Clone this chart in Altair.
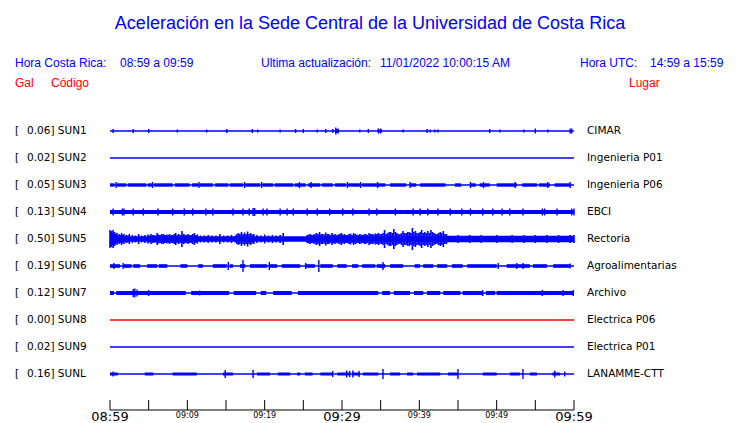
import altair as alt
import pandas as pd

# ---------------- data ----------------
TITLE = "Aceleración en la Sede Central de la Universidad de Costa Rica"
header_texts = ["Hora Costa Rica:", "08:59 a 09:59", "Ultima actualización:",
                "11/01/2022 10:00:15 AM", "Hora UTC:", "14:59 a 15:59"]
header_red = ["Gal", "Código", "Lugar"]

codes = ["SUN1", "SUN2", "SUN3", "SUN4", "SUN5", "SUN6", "SUN7", "SUN8", "SUN9", "SUNL"]
peaks = [0.06, 0.02, 0.05, 0.13, 0.50, 0.19, 0.12, 0.00, 0.02, 0.16]
places = ["CIMAR", "Ingenieria P01", "Ingenieria P06", "EBCI", "Rectoria",
          "Agroalimentarias", "Archivo", "Electrica P06", "Electrica P01", "LANAMME-CTT"]

# time axis (minutes after 08:59)
tick_minutes = [0, 5, 10, 15, 20, 25, 30, 35, 40, 45, 50, 55, 60]
major_labels = [[0, "08:59"], [30, "09:29"], [60, "09:59"]]
minor_labels = [[10, "09:09"], [20, "09:19"], [40, "09:39"], [50, "09:49"]]

# thick parts of each trace: [start min, end min, half amplitude]
chunks = {
    "SUN1": [[29.1, 29.5, 2], [34.6, 35.2, 1.5]],
    "SUN3": [[0, 0.6, 1.7], [0.9, 2.1, 1.7], [2.3, 4.7, 1.7], [4.9, 5.4, 1.7], [5.7, 8.1, 1.7],
             [8.4, 10.3, 1.7], [10.6, 11.4, 1.7], [11.6, 13.3, 1.7], [13.6, 15.3, 1.7],
             [15.5, 17.2, 1.7], [17.5, 19.4, 1.7], [19.7, 21.1, 1.7], [21.3, 23.7, 1.7],
             [23.9, 25.3, 1.7], [25.6, 27.2, 1.7], [27.4, 28.8, 1.7], [29.1, 30.5, 1.7],
             [30.8, 32.3, 1.7], [32.6, 35.6, 1.7], [36.2, 38.3, 1.7], [38.8, 39.6, 1.7],
             [40.1, 43.4, 1.7], [44.6, 45.4, 1.7], [46.6, 47.3, 1.7], [47.8, 49.1, 1.7],
             [50.0, 52.6, 1.7], [53.3, 55.2, 1.7], [55.5, 56.9, 1.7], [57.5, 59.5, 1.7]],
    "SUN4": [[0, 60, 2]],
    "SUN5": [[0, 60, 2.8], [43.5, 60, 3.2]],
    "SUN6": [[0, 1.3, 1.8], [1.8, 2.8, 1.8], [3.0, 3.9, 1.8], [4.8, 6.1, 1.8], [6.3, 7.4, 1.8],
             [9.1, 10.0, 1.8], [11.4, 12.0, 1.8], [13.3, 15.1, 1.8], [15.5, 15.9, 1.8],
             [16.8, 17.5, 1.8], [18.1, 20.3, 1.8], [20.7, 21.6, 1.8], [22.2, 24.6, 1.8],
             [25.2, 26.5, 1.8], [27.2, 28.8, 1.8], [29.4, 30.6, 1.8], [31.3, 32.1, 1.8],
             [32.6, 34.3, 1.8], [34.5, 35.6, 1.8], [36.2, 37.9, 1.8], [39.4, 40.1, 1.8],
             [40.5, 41.8, 1.8], [42.3, 43.6, 1.8], [44.2, 45.6, 1.8], [46.2, 50.0, 1.8],
             [51.3, 54.3, 1.8], [54.7, 56.5, 1.8], [57.3, 59.5, 1.8]],
    "SUN7": [[0, 0.5, 2], [0.8, 9.8, 2], [10.5, 15.4, 2], [16.0, 18.9, 2], [19.5, 20.2, 2],
             [21.1, 23.5, 2], [24.3, 34.7, 2], [35.2, 36.2, 2], [36.7, 38.8, 2], [39.3, 40.5, 2],
             [41.0, 42.7, 2], [43.1, 45.3, 2], [45.6, 48.1, 2], [48.6, 49.8, 2], [50.0, 60, 2]],
    "SUNL": [[0, 1.0, 1.5], [4.5, 5.6, 1.5], [8.1, 11.2, 1.5], [14.6, 15.9, 1.5], [19.0, 20.7, 1.5],
             [21.7, 23.3, 1.5], [24.2, 24.6, 1.5], [25.2, 26.2, 1.5], [27.2, 28.8, 1.5],
             [29.4, 31.0, 1.5], [31.4, 32.3, 1.5], [32.7, 34.7, 1.5], [36.2, 37.5, 1.5],
             [38.4, 39.2, 1.5], [39.7, 42.7, 1.5], [43.7, 45.0, 1.5], [48.2, 50.0, 1.5],
             [51.7, 53.0, 1.5], [54.3, 55.2, 1.5], [57.2, 58.2, 1.5]],
}

# spikes: [minute, half amplitude]
spikes = {
    "SUN1": [[0.4, 2], [3.0, 2], [5.0, 2], [8.7, 1.5], [12.5, 1.5], [15.1, 2], [18.4, 2], [19.1, 1.5],
             [22.0, 1.5], [24.0, 2], [25.0, 2], [26.8, 1.5], [27.9, 2], [28.8, 2], [29.2, 3.5],
             [29.5, 2.5], [32.3, 1.5], [33.4, 2], [34.7, 2.5], [35.0, 2.5], [37.9, 1.5], [41.0, 2],
             [41.4, 1.5], [42.0, 1.5], [42.4, 1.5], [49.1, 2], [50.4, 1.5], [53.5, 1.5], [55.0, 2.5],
             [56.6, 1.5], [59.5, 2.5], [59.7, 2.5]],
    "SUN3": [[0.8, 3], [5.5, 3], [11.5, 3], [17.4, 3], [19.6, 3], [24.5, 3], [26.0, 3], [30.7, 3],
             [32.4, 3], [34.6, 3], [38.8, 3], [46.6, 3], [48.3, 3], [52.4, 3], [56.6, 3], [59.5, 3]],
    "SUN4": [[0.4, 3.5], [1.6, 3.5], [1.8, 3.5], [3.0, 3.5], [4.3, 3.5], [6.2, 3.5], [8.1, 3.5],
             [9.6, 3.5], [10.7, 3.5], [12.4, 3.5], [13.3, 3.5], [15.9, 3.5], [17.2, 3.5], [18.0, 3.5],
             [18.5, 4], [18.7, 4], [19.8, 3.5], [20.3, 3.5], [22.0, 3.5], [22.9, 3.5], [23.7, 3.5],
             [25.5, 3.5], [26.8, 3.5], [28.4, 3.5], [30.1, 3.5], [31.4, 3.5], [33.5, 3.5], [34.5, 3.5],
             [36.9, 3.5], [39.2, 3.5], [40.1, 3.5], [41.1, 3.5], [42.4, 3.5], [44.0, 3.5], [45.5, 3.5],
             [46.6, 3.5], [48.2, 3.5], [49.5, 3.5], [50.7, 3.5], [51.7, 3.5], [53.4, 3.5], [55.9, 3.5],
             [56.2, 3.5], [57.8, 3.5], [59.7, 3.5], [60, 3.5]],
    "SUN5": [[0.0, 9], [0.1, 7], [0.2, 8], [0.3, 6], [0.4, 9], [0.5, 6], [0.6, 7], [0.75, 5], [0.9, 6],
             [1.05, 4], [1.2, 5], [1.35, 4], [1.5, 6], [1.65, 4], [1.8, 5], [2.1, 4],
             [2.3, 3.5], [2.5, 5], [2.9, 4], [3.3, 3.5], [3.7, 5], [4.1, 3.5], [4.5, 4], [4.9, 4.5],
             [5.1, 3.5], [5.3, 5], [5.5, 4], [5.7, 4], [5.9, 3.5], [6.1, 6], [6.3, 4.5], [6.5, 4],
             [6.7, 5], [6.9, 5], [7.1, 4], [7.3, 4.5], [7.5, 4], [7.7, 5], [7.9, 4], [8.1, 4],
             [8.3, 5], [8.5, 6], [8.7, 4], [8.9, 5], [9.1, 4], [9.3, 8], [9.5, 5], [9.7, 4.5],
             [9.9, 4], [10.1, 5], [10.3, 4], [10.5, 4], [10.7, 5], [10.9, 6], [11.1, 4], [11.3, 4.5],
             [11.7, 3.5], [12.2, 3.5], [12.7, 4], [13.2, 3.5], [13.7, 3.5], [14.2, 5], [14.7, 3.5],
             [15.2, 3.5], [15.7, 4], [16.2, 3.5], [16.4, 5], [16.6, 6], [16.8, 5], [17.0, 7],
             [17.2, 5], [17.4, 6.5], [17.6, 5], [17.8, 7.5], [18.0, 5], [18.2, 6], [18.4, 4.5],
             [18.6, 5], [19.0, 4], [19.5, 3.5], [20.0, 4.5], [20.5, 3.5], [21.0, 4], [21.5, 3.5],
             [22.0, 4], [22.4, 6], [25.5, 4], [25.7, 4.5], [25.9, 5], [26.1, 4], [26.3, 4.5],
             [26.5, 5], [26.7, 6], [26.9, 5], [27.1, 7], [27.3, 5], [27.5, 5], [27.7, 4.5],
             [27.9, 6.5], [28.1, 5], [28.3, 5], [28.5, 4], [28.7, 6], [28.9, 4.5], [29.1, 5],
             [29.3, 4], [29.5, 4.5], [29.7, 5], [29.9, 6], [30.1, 4.5], [30.3, 5], [30.5, 4],
             [30.7, 4], [30.9, 5], [31.1, 5.5], [31.3, 4], [31.5, 6], [31.7, 5], [31.9, 4.5],
             [32.1, 4], [32.3, 5], [32.5, 4.5], [32.7, 4], [32.9, 5], [33.1, 5], [33.3, 4],
             [33.5, 6], [33.7, 5], [33.9, 5], [34.1, 4.5], [34.3, 5.5], [34.5, 5], [34.7, 6],
             [34.9, 5], [35.1, 5], [35.3, 6], [35.5, 9], [35.7, 5], [35.9, 6], [36.1, 7], [36.3, 7],
             [36.5, 6], [36.7, 10], [36.9, 7], [37.1, 6], [37.3, 5], [37.5, 5], [37.7, 6], [37.9, 8],
             [38.1, 6], [38.3, 6], [38.5, 7], [38.7, 7], [38.9, 6], [39.1, 11], [39.3, 7], [39.5, 8],
             [39.7, 6], [39.9, 6], [40.1, 7], [40.3, 9], [40.5, 6], [40.7, 7], [40.9, 6], [41.1, 8],
             [41.3, 6], [41.5, 9], [41.7, 7], [41.9, 6], [42.1, 5], [42.3, 5], [42.5, 6], [42.7, 7],
             [42.9, 6], [43.1, 8], [43.3, 5], [43.5, 5], [45.0, 4], [46.5, 4], [48.0, 4], [50.0, 4],
             [52.0, 4], [53.5, 4], [55.0, 4], [56.5, 4], [58.0, 4], [59.5, 4], [60, 4]],
    "SUN6": [[0.5, 3], [1.7, 3], [15.3, 4], [17.2, 6], [20.6, 4], [25.3, 3], [27.0, 6], [35.3, 4],
             [50.2, 3], [52.6, 3], [53.4, 3], [59.5, 2.5]],
    "SUN7": [[3.0, 4], [3.2, 4.5], [3.5, 3.5], [5.0, 3], [11.6, 2.5], [48.2, 3], [55.9, 3],
             [58.6, 3], [59.9, 3]],
    "SUNL": [[0.4, 2.5], [14.9, 4], [18.5, 4], [28.8, 3], [30.6, 3.5], [31.0, 3], [31.4, 3.5],
             [32.2, 3], [35.3, 5], [45.0, 5], [53.4, 5], [57.5, 3.5], [58.8, 2.5]],
}

# ---------------- layout ----------------
BLUE = "#0000ff"
RED = "#ff0000"
W, H = 464, 293
TOP, GAP = 14, 27          # pixel offset of first trace, spacing between traces
line_colors = [RED if c == "SUN8" else BLUE for c in codes]

center = {c: TOP + GAP * i for i, c in enumerate(codes)}

base_df = pd.DataFrame({"code": codes, "x": 0, "x2": 60,
                        "y": [center[c] for c in codes],
                        "lbl": [f"{p:.2f}] {c}" for p, c in zip(peaks, codes)],
                        "place": places})

chunk_rows = []
for c, lst in chunks.items():
    for s, e, a in lst:
        chunk_rows.append({"code": c, "x": s, "x2": e, "y": center[c] - a, "y2": center[c] + a})
chunk_df = pd.DataFrame(chunk_rows)

spike_rows = []
for c, lst in spikes.items():
    for m, a in lst:
        spike_rows.append({"code": c, "x": m, "y": center[c] - a, "y2": center[c] + a,
                           "w": 1.6 if c == "SUN5" else 1.4})
spike_df = pd.DataFrame(spike_rows)

xs = alt.Scale(domain=[0, 60], nice=False, zero=False)
ys = alt.Scale(domain=[0, H], reverse=True, nice=False, zero=False)

X = lambda f="x": alt.X(f"{f}:Q", scale=xs, axis=None)
Y = lambda f="y": alt.Y(f"{f}:Q", scale=ys, axis=None)

base = alt.Chart(base_df).mark_rule(strokeWidth=1.3).encode(
    x=X(), x2="x2:Q", y=Y(),
    color=alt.Color("code:N", scale=alt.Scale(domain=codes, range=line_colors), legend=None))

chunk_layer = alt.Chart(chunk_df).mark_rect(color=BLUE).encode(
    x=X(), x2="x2:Q", y=Y(), y2="y2:Q")

spike_layer = alt.Chart(spike_df).mark_rule(color=BLUE).encode(
    x=X(), y=Y(), y2="y2:Q", strokeWidth=alt.StrokeWidth("w:Q", scale=None))

LABEL_FONT = "DejaVu Sans"
bracket = alt.Chart(base_df).mark_text(font=LABEL_FONT, fontSize=10.5, align="left",
                                       baseline="middle", color="black").encode(
    x=alt.value(-95), y=Y(), text=alt.value("["))
left_lbl = alt.Chart(base_df).mark_text(font=LABEL_FONT, fontSize=10.5, align="left",
                                        baseline="middle", color="black").encode(
    x=alt.value(-83), y=Y(), text="lbl:N")
right_lbl = alt.Chart(base_df).mark_text(font=LABEL_FONT, fontSize=10.5, align="left",
                                         baseline="middle", color="black").encode(
    x=alt.value(477), y=Y(), text="place:N")

# axis drawn from the tick list
axis_df = pd.DataFrame({"x": [0], "x2": [60]})
axis_line = alt.Chart(axis_df).mark_rule(color="black", strokeWidth=1).encode(
    x=X(), x2="x2:Q", y=alt.value(H))
ticks = alt.Chart(pd.DataFrame({"x": tick_minutes})).mark_rule(color="black", strokeWidth=1).encode(
    x=X(), y=alt.value(H - 10), y2=alt.value(H))
maj = alt.Chart(pd.DataFrame(major_labels, columns=["x", "t"])).mark_text(
    font=LABEL_FONT, fontSize=13, baseline="middle", align="center", color="black").encode(
    x=X(), y=alt.value(H + 7), text="t:N")
mino = alt.Chart(pd.DataFrame(minor_labels, columns=["x", "t"])).mark_text(
    font=LABEL_FONT, fontSize=8, baseline="middle", align="center", color="black").encode(
    x=X(), y=alt.value(H + 6), text="t:N")

# headers
HF = "Liberation Sans"
title = alt.Chart(pd.DataFrame({"t": [TITLE]})).mark_text(
    font=HF, fontSize=18, color=BLUE, align="center", baseline="middle").encode(
    x=alt.value(260), y=alt.value(-93), text="t:N")
hdr_x = [-95, 10, 151, 270, 470, 540]
hdr_layers = [
    alt.Chart(pd.DataFrame({"t": [t]})).mark_text(
        font=HF, fontSize=12, color=BLUE, align="left", baseline="middle").encode(
        x=alt.value(px), y=alt.value(-54), text="t:N")
    for t, px in zip(header_texts, hdr_x)
]
red_x = [-95, -59, 519]
red_layers = [
    alt.Chart(pd.DataFrame({"t": [t]})).mark_text(
        font=HF, fontSize=12, color=RED, align="left", baseline="middle").encode(
        x=alt.value(px), y=alt.value(-34), text="t:N")
    for t, px in zip(header_red, red_x)
]

chart = alt.layer(base, chunk_layer, spike_layer, bracket, left_lbl, right_lbl,
                  axis_line, ticks, maj, mino, title, *hdr_layers, *red_layers).properties(
    width=W, height=H,
    autosize=alt.AutoSizeParams(type="none"),
    padding={"left": 102, "top": 109, "right": 158, "bottom": 14},
    background="white",
).configure_view(stroke=None)

chart.save("out.html", embed_options={"renderer": "svg", "actions": False})
